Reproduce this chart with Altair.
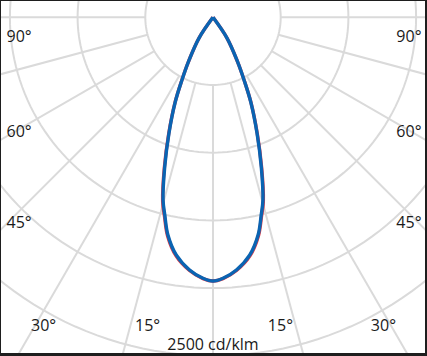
import altair as alt
import pandas as pd
import numpy as np

# Photometric data (gamma in degrees from nadir, cd/klm)
gamma = [0, 2.2, 5.3, 8.8, 11.7, 13.7, 15.3, 17.9, 20.8, 24.0, 26.3, 29.0, 34.0, 39.0]
c90_270 = [1948, 1929, 1874, 1776, 1642, 1503, 1398, 1160, 916, 687, 520, 372, 185, 0]
c0_180 = [1948, 1931, 1878, 1783, 1651, 1513, 1409, 1170, 922, 690, 521, 372, 185, 0]

ring_values = [500, 1000, 1500, 2000, 2500]
spoke_angles = [-90, -75, -60, -45, -30, -15, 0, 15, 30, 45, 60, 75, 90]

left_labels = ["90°", "60°", "45°", "30°", "15°"]
right_labels = ["90°", "60°", "45°", "30°", "15°"]
scale_label = "2500 cd/klm"

K = 500 / 67.7  # cd/klm per pixel
W, H = 424, 352
CX, CY = 212, 16.3
xdom = [-CX * K, (W - CX) * K]
ydom = [-(H - CY) * K, CY * K]

X = lambda f: alt.X(f, type="quantitative", scale=alt.Scale(domain=xdom, nice=False, zero=False), axis=None)
Y = lambda f: alt.Y(f, type="quantitative", scale=alt.Scale(domain=ydom, nice=False, zero=False), axis=None)


def curve_df(vals, name):
    rows = []
    i = 0
    for g, v in zip(reversed(gamma), reversed(vals)):
        rows.append({"g": g, "v": v, "o": i, "s": name}); i += 1
    for g, v in zip(gamma[1:], vals[1:]):
        rows.append({"g": -g, "v": v, "o": i, "s": name}); i += 1
    return pd.DataFrame(rows)


ring_rows = []
for r in ring_values:
    for a in range(0, 361, 2):
        ring_rows.append({"r": r, "a": a})
rings_df = pd.DataFrame(ring_rows)

spokes_df = pd.DataFrame({"a": spoke_angles, "r0": 500, "r1": 5000})

grid_color = "#dadada"

rings = alt.Chart(rings_df).transform_calculate(
    x="datum.r*sin(datum.a*PI/180)", y="-datum.r*cos(datum.a*PI/180)"
).mark_line(color=grid_color, strokeWidth=2, clip=True).encode(
    x=X("x"), y=Y("y"), detail="r:N", order="a:Q"
)

spokes = alt.Chart(spokes_df).transform_calculate(
    x="datum.r0*sin(datum.a*PI/180)", y="-datum.r0*cos(datum.a*PI/180)",
    x2="datum.r1*sin(datum.a*PI/180)", y2="-datum.r1*cos(datum.a*PI/180)"
).mark_rule(color=grid_color, strokeWidth=2, clip=True).encode(
    x=X("x"), y=Y("y"), x2="x2:Q", y2="y2:Q"
)


def curve(df, color, width):
    return alt.Chart(df).transform_calculate(
        x="datum.v*sin(datum.g*PI/180)", y="-datum.v*cos(datum.g*PI/180)"
    ).mark_line(color=color, strokeWidth=width, interpolate="catmull-rom", clip=True,
                strokeJoin="miter").encode(x=X("x"), y=Y("y"), order="o:Q")


red = curve(curve_df(c0_180, "C0-C180"), "#e23a45", 3.4)
blue = curve(curve_df(c90_270, "C90-C270"), "#0a64b2", 3.4)

text_color = "#1a1a1a"


def label(t, px, py, align="left"):
    return alt.Chart(pd.DataFrame({"t": [t]})).mark_text(
        align=align, baseline="alphabetic", font="Open Sans", fontSize=16, color=text_color
    ).encode(text="t:N", x=alt.value(px), y=alt.value(py))


left_pos = [(5.5, 40.5), (5.5, 136), (5.5, 227), (30, 330), (134, 330)]
right_pos = [(420.5, 40.5), (420.5, 136), (420.5, 227), (395, 330), (292, 330)]

texts = []
for t, (px, py) in zip(left_labels, left_pos):
    texts.append(label(t, px, py, "left"))
for t, (px, py) in zip(right_labels, right_pos):
    texts.append(label(t, px, py, "right"))
texts.append(label(scale_label, 212, 349, "center"))

chart = alt.layer(rings, spokes, red, blue, *texts).properties(
    width=W, height=H,
    autosize=alt.AutoSizeParams(type="none"),
    padding={"left": 1, "top": 1, "right": 2, "bottom": 3},
    background="#1e1e1e",
).configure_view(fill="white", strokeWidth=0)

chart.save("out.html", embed_options={"renderer": "svg", "actions": False})
